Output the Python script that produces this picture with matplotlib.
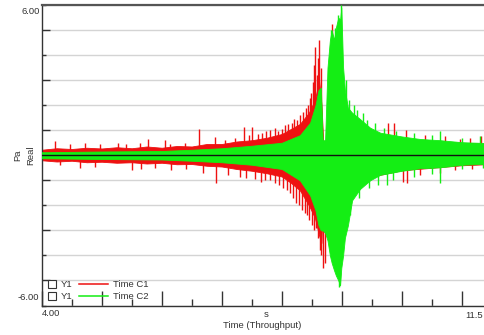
import numpy as np
import matplotlib
matplotlib.use("Agg")
import matplotlib.pyplot as plt

plt.rcParams['font.family'] = ['Liberation Sans', 'DejaVu Sans']

########## DATA ##########
# Time C1 (red): dense core band of the signal
c1_t   = [4.00, 4.25, 4.50, 4.75, 5.00, 5.25, 5.50, 5.75, 6.00, 6.25, 6.50, 6.75, 7.00, 7.25,
          7.50, 7.75, 8.00, 8.15, 8.30, 8.45, 8.55, 8.62, 8.66,
          8.69, 8.74, 8.80, 9.00, 9.30, 9.60, 10.00, 10.50, 11.00, 11.50]
c1_top = [0.22, 0.28, 0.25, 0.30, 0.27, 0.32, 0.28, 0.35, 0.30, 0.37, 0.35, 0.45, 0.45, 0.55,
          0.60, 0.70, 0.85, 1.05, 1.25, 1.70, 2.20, 3.00, 2.00,
          0.50, 0.40, 1.50, 1.80, 1.00, 0.85, 0.60, 0.55, 0.50, 0.45]
c1_bot = [-0.20, -0.25, -0.22, -0.28, -0.26, -0.30, -0.28, -0.33, -0.30, -0.36, -0.35, -0.42, -0.45, -0.55,
          -0.62, -0.72, -0.85, -1.10, -1.40, -2.00, -2.50, -3.20, -3.50,
          -0.50, -0.40, -1.50, -2.00, -1.00, -0.80, -0.60, -0.50, -0.40, -0.35]
# Time C1 single spikes
c1_spike_t = [4.22, 4.47, 4.72, 4.97, 5.27, 5.41, 5.64, 5.77, 6.06, 6.14, 6.39, 6.62, 6.89, 7.06,
              7.22, 7.37, 7.51, 7.67, 7.81, 7.94, 8.06, 8.17, 8.26, 8.36, 8.44, 8.49, 8.52, 8.56,
              8.59, 8.62, 8.66, 8.84, 9.76, 9.86, 10.06, 10.39, 10.72, 10.97, 11.14, 11.31,
              7.45, 7.60, 7.74, 7.88, 8.00, 8.10, 8.20, 8.30, 8.40, 8.47, 8.54, 8.60,
              4.31, 4.64, 4.89, 5.51, 5.66, 5.89, 6.16, 6.41, 6.69, 6.91, 7.11, 7.31, 7.56, 7.72,
              7.89, 8.02, 8.14, 8.24, 8.34, 8.42, 8.51, 8.57, 8.64, 8.69, 8.72, 10.01, 10.09,
              10.30, 10.64, 10.89, 11.16,
              7.40, 7.65, 7.80, 7.95, 8.08, 8.19, 8.29, 8.38, 8.46, 8.54, 8.60, 8.66]
c1_spike_v = [0.55, 0.45, 0.50, 0.45, 0.50, 0.45, 0.50, 0.66, 0.60, 0.45, 0.50, 1.06, 0.74, 0.60,
              0.70, 1.14, 1.14, 0.90, 1.00, 0.95, 1.20, 1.30, 1.40, 1.74, 2.00, 2.50, 2.94, 4.34,
              3.20, 4.60, 3.50, 5.25, 1.30, 1.30, 1.00, 0.80, 0.75, 0.65, 0.70, 0.75,
              0.80, 0.85, 0.95, 1.10, 1.05, 1.25, 1.45, 1.60, 1.90, 2.30, 3.60, 3.90,
              -0.40, -0.50, -0.45, -0.60, -0.55, -0.50, -0.60, -0.55, -0.70, -1.10, -0.80, -0.85, -0.95, -1.00,
              -1.10, -1.30, -1.50, -1.90, -2.20, -2.40, -2.80, -2.90, -3.80, -4.50, -4.30, -1.06, -1.10,
              -0.80, -0.70, -0.60, -0.55,
              -0.90, -1.05, -1.00, -1.20, -1.40, -1.70, -2.00, -2.30, -2.60, -3.00, -3.30, -4.00]

# Time C2 (green): dense core band of the signal
c2_t   = [4.00, 5.00, 6.00, 6.50, 7.00, 7.50, 8.00, 8.30, 8.47, 8.56, 8.61, 8.65, 8.68, 8.72,
          8.76, 8.80, 8.83, 8.87, 8.90, 8.94, 8.97, 8.99, 9.02, 9.05, 9.10, 9.17, 9.30, 9.47,
          9.64, 10.00, 10.30, 10.64, 11.00, 11.50]
c2_top = [0.12, 0.15, 0.17, 0.22, 0.28, 0.38, 0.50, 0.80, 1.30, 2.00, 2.60, 2.70, 0.60, 0.60,
          3.50, 4.60, 5.00, 4.60, 5.10, 5.50, 5.40, 5.90, 3.50, 2.60, 1.90, 1.70, 1.45, 1.10,
          0.90, 0.75, 0.65, 0.60, 0.52, 0.48]
c2_bot = [-0.12, -0.15, -0.17, -0.22, -0.28, -0.38, -0.55, -1.00, -1.60, -2.20, -2.80, -3.00, -3.00, -3.10,
          -3.40, -4.00, -4.30, -4.60, -4.80, -5.00, -5.20, -4.50, -4.00, -3.30, -2.80, -1.80, -1.35, -1.00,
          -0.78, -0.62, -0.52, -0.48, -0.38, -0.33]
# Time C2 single spikes
c2_spike_t = [8.82, 8.89, 8.94, 8.99, 9.06, 9.20, 9.35, 9.55, 10.64, 8.96, 9.60, 9.75, 10.64,
              9.12, 9.25, 9.42, 9.70, 9.90, 10.20, 10.50, 11.00, 11.30,
              9.13, 9.28, 9.45, 9.85, 10.20, 10.50, 11.00, 11.35]
c2_spike_v = [5.00, 5.10, 5.60, 6.00, 3.00, 2.00, 1.70, 1.30, 0.95, -5.25, -1.20, -1.20, -1.10,
              2.20, 1.80, 1.40, 1.10, 0.95, 0.90, 0.80, 0.70, 0.75,
              -2.40, -1.70, -1.30, -1.00, -0.85, -0.75, -0.55, -0.50]

y_tick_labels = ["6.00", "-6.00"]
x_tick_labels = ["4.00", "s", "11.5"]

RED = '#ee1111'
GREEN = '#14ee14'
TXT = '#333333'

########## PLOT ##########
fig = plt.figure(figsize=(4.85, 3.35), dpi=100)
ax = fig.add_axes([41.7 / 485, 29.5 / 335, 450.3 / 485, 300.5 / 335])

ax.fill_between(c1_t, c1_bot, c1_top, color=RED, lw=0.6, zorder=2)
ax.vlines(c1_spike_t, 0, c1_spike_v, color=RED, lw=1.0, zorder=2)
ax.fill_between(c2_t, c2_bot, c2_top, color=GREEN, lw=0.6, zorder=3)
ax.vlines(c2_spike_t, 0, c2_spike_v, color=GREEN, lw=1.0, zorder=3)
ax.axhline(0, color='#111111', lw=1.0, zorder=4)

ax.set_xlim(4.0, 11.5)
ax.set_ylim(-6, 6)
ax.set_yticks(np.arange(-5, 6, 2))
ax.set_yticks(np.arange(-6, 7, 2), minor=True)
ax.set_xticks(np.arange(4, 12, 1))
ax.set_xticks(np.arange(4.5, 11.5, 1), minor=True)
ax.tick_params(which='both', direction='in', labelleft=False, labelbottom=False,
               colors='#333333', width=1.0)
ax.tick_params(axis='x', which='major', length=11)
ax.tick_params(axis='x', which='minor', length=5)
ax.tick_params(axis='y', which='major', length=6)
ax.tick_params(axis='y', which='minor', length=3)
ax.grid(axis='y', which='both', color='#d4d4d4', lw=1.0, zorder=0)
ax.set_axisbelow(True)

for s in ['left', 'bottom']:
    ax.spines[s].set_color('#333333')
    ax.spines[s].set_linewidth(1.0)
ax.spines['top'].set_color('#555555')
ax.spines['top'].set_linewidth(1.6)
ax.spines['right'].set_visible(False)

fs = 6.8
ax.text(-0.005, 0.98, y_tick_labels[0], transform=ax.transAxes, ha='right', va='center', fontsize=fs, color=TXT)
ax.text(-0.005, 0.025, y_tick_labels[1], transform=ax.transAxes, ha='right', va='center', fontsize=fs, color=TXT)
ax.text(0.0, -0.027, x_tick_labels[0], transform=ax.transAxes, ha='left', va='center', fontsize=fs, color=TXT)
ax.text(0.498, -0.03, x_tick_labels[1], transform=ax.transAxes, ha='center', va='center', fontsize=fs, color=TXT)
fig.text(483 / 485, 1 - 315 / 335, x_tick_labels[2], ha='right', va='center', fontsize=fs, color=TXT)
ax.text(0.49, -0.068, "Time (Throughput)", transform=ax.transAxes, ha='center', va='center', fontsize=fs, color=TXT)
fig.text(18 / 485, 1 - 155 / 335, "Pa", rotation=90, ha='center', va='center', fontsize=fs, color=TXT)
fig.text(31 / 485, 1 - 155 / 335, "Real", rotation=90, ha='center', va='center', fontsize=fs, color=TXT)

# legend box drawn by hand (square, "Y1", line, name)
for yy, col, name in [(0.0715, RED, "Time C1"), (0.0316, GREEN, "Time C2")]:
    ax.plot([0.023], [yy], marker='s', ms=5.5, mfc='white', mec='#333333', mew=0.8,
            transform=ax.transAxes, zorder=6)
    ax.text(0.043, yy, "Y1", transform=ax.transAxes, ha='left', va='center', fontsize=fs, color=TXT, zorder=6)
    ax.plot([0.083, 0.147], [yy, yy], color=col, lw=1.1, transform=ax.transAxes, zorder=6)
    ax.text(0.158, yy, name, transform=ax.transAxes, ha='left', va='center', fontsize=fs, color=TXT, zorder=6)

fig.savefig("out.png", dpi=100)
